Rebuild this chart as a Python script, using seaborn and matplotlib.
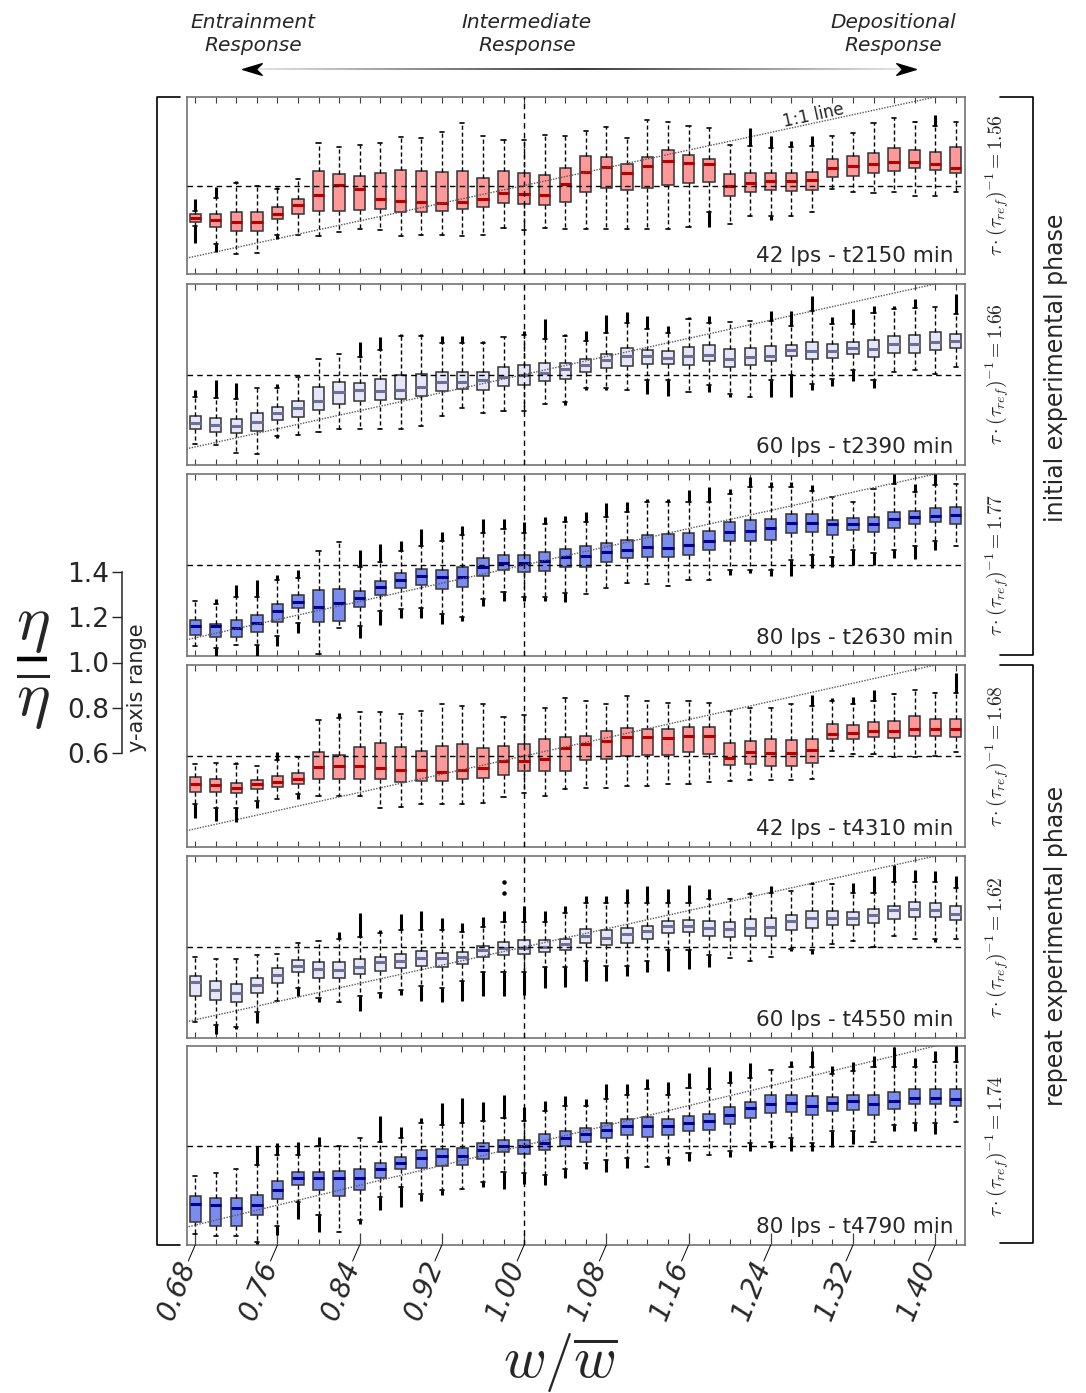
import numpy as np
import pandas as pd
import matplotlib
matplotlib.use("Agg")
import matplotlib.pyplot as plt
from matplotlib.lines import Line2D
from matplotlib.collections import LineCollection
from matplotlib.path import Path
import seaborn as sns

sns.set_style("white")
plt.rcParams["font.family"] = ["DejaVu Sans"]
plt.rcParams["mathtext.fontset"] = "cm"

N = np.nan

# channel width bins, w / mean(w)
width_ratio = [0.68, 0.70, 0.72, 0.74, 0.76, 0.78, 0.80, 0.82, 0.84, 0.86,
               0.88, 0.90, 0.92, 0.94, 0.96, 0.98, 1.00, 1.02, 1.04, 1.06,
               1.08, 1.10, 1.12, 1.14, 1.16, 1.18, 1.20, 1.22, 1.24, 1.26,
               1.28, 1.30, 1.32, 1.34, 1.36, 1.38, 1.40, 1.42]
major_ticks = [0.68, 0.76, 0.84, 0.92, 1.00, 1.08, 1.16, 1.24, 1.32, 1.40]

run_labels = ["42 lps - t2150 min", "60 lps - t2390 min", "80 lps - t2630 min",
              "42 lps - t4310 min", "60 lps - t4550 min", "80 lps - t4790 min"]
discharge = [42, 60, 80, 42, 60, 80]
tau_ratio = [1.56, 1.66, 1.77, 1.68, 1.62, 1.74]

# ---- 42 lps, t2150 ----
p1_whishi = [.887, .942, 1.013, .996, .984, 1.028, 1.193, 1.173, 1.185, 1.193,
             1.221, 1.216, 1.240, 1.284, 1.225, 1.207, 1.207, 1.230, 1.225, 1.245,
             1.264, 1.215, 1.297, 1.285, 1.270, 1.261, 1.182, 1.178, 1.170, 1.175,
             1.178, 1.225, 1.237, 1.282, 1.304, 1.285, 1.267, 1.287]
p1_q3 = [.869, .869, .879, .879, .904, .937, 1.064, 1.054, 1.042, 1.057,
         1.070, 1.067, 1.063, 1.064, 1.034, 1.064, 1.057, 1.048, 1.078, 1.133,
         1.131, 1.097, 1.127, 1.160, 1.140, 1.122, 1.052, 1.057, 1.058, 1.058,
         1.063, 1.119, 1.134, 1.148, 1.169, 1.160, 1.151, 1.176]
p1_med = [.852, .846, .837, .837, .873, .913, .957, 1.004, .984, .939,
          .928, .927, .922, .927, .939, .966, .961, .957, 1.009, 1.063,
          1.082, 1.057, 1.087, 1.112, 1.103, 1.097, 1.000, 1.013, 1.019, 1.021,
          1.025, 1.081, 1.088, 1.097, 1.107, 1.107, 1.099, 1.079]
p1_q1 = [.836, .812, .793, .793, .849, .869, .884, .887, .890, .894,
         .879, .879, .884, .894, .904, .922, .915, .912, .924, .972,
         .988, .978, .988, 1.004, 1.012, 1.016, .954, .972, .979, .975,
         .981, 1.040, 1.043, 1.057, 1.067, 1.078, 1.070, 1.058]
p1_whislo = [.819, .737, .690, .697, .775, .778, .772, .788, .804, .800,
             .772, .776, .776, .770, .775, .807, .800, .807, .804, .804,
             .804, .804, .804, .804, .812, .879, .827, .861, .864, .864,
             .882, .984, .972, .964, .969, .954, .954, .969]
p1_flier_hi = [.939, .991, 1.021, N, .994, N, N, N, N, N,
               N, N, N, N, N, N, N, N, N, N,
               N, N, N, N, N, N, N, 1.260, 1.222, 1.200,
               1.225, N, N, N, N, 1.290, 1.319, N]
p1_flier_lo = [.742, .700, N, N, .760, N, N, N, N, N,
               N, N, N, N, N, N, N, N, N, N,
               N, N, N, N, N, .812, N, N, .842, N,
               N, N, N, N, N, N, N, N]

# ---- 60 lps, t2390 ----
p2_whishi = [.900, .897, .893, .942, .942, .987, 1.070, 1.091, 1.079, 1.109,
             1.172, 1.172, 1.139, 1.139, 1.139, 1.166, 1.176, 1.157, 1.172, 1.146,
             1.184, 1.228, 1.199, 1.184, 1.246, 1.228, 1.233, 1.236, 1.236, 1.213,
             1.281, 1.221, 1.221, 1.273, 1.288, 1.296, 1.300, 1.266]
p2_q3 = [.815, .809, .804, .830, .858, .881, .943, .969, .963, .979,
         .997, 1.004, 1.009, 1.012, 1.012, 1.031, 1.040, 1.049, 1.052, 1.067,
         1.091, 1.116, 1.107, 1.103, 1.121, 1.130, 1.113, 1.115, 1.124, 1.131,
         1.143, 1.134, 1.142, 1.151, 1.169, 1.176, 1.188, 1.179]
p2_med = [.784, .778, .773, .790, .828, .854, .885, .921, .930, .927,
          .933, .945, .966, .969, .975, .990, .997, 1.007, 1.025, 1.040,
          1.064, 1.082, 1.082, 1.075, 1.082, 1.085, 1.069, 1.076, 1.081, 1.109,
          1.104, 1.104, 1.116, 1.113, 1.133, 1.133, 1.145, 1.149]
p2_q1 = [.757, .745, .740, .751, .801, .813, .843, .869, .881, .888,
         .890, .904, .925, .934, .933, .948, .952, .970, .981, 1.012,
         1.028, 1.039, 1.046, 1.046, 1.043, 1.058, 1.031, 1.042, 1.061, 1.081,
         1.067, 1.072, 1.090, 1.076, 1.094, 1.094, 1.109, 1.118]
p2_whislo = [.694, .687, .654, .649, .728, .733, .748, .761, .761, .758,
             .761, .773, .815, .851, .830, .840, .840, .870, .878, .942,
             .942, .933, .975, .975, .922, .952, .915, .900, .975, 1.000,
             .960, .982, 1.019, .975, 1.012, 1.019, 1.001, 1.031]
p2_flier_hi = [.930, .975, .964, N, .960, N, N, N, 1.142, 1.164,
               1.181, 1.181, 1.172, 1.172, 1.149, N, 1.191, 1.246, 1.181, 1.191,
               1.261, 1.276, 1.258, 1.216, 1.255, 1.258, N, N, 1.281, 1.281,
               1.348, 1.255, 1.288, 1.303, 1.303, 1.333, N, 1.355]
p2_flier_lo = [N, N, N, N, .718, N, N, N, N, N,
               N, N, N, N, N, N, N, N, .863, .930,
               .930, N, .915, .907, N, .922, .900, N, .900, .900,
               .930, .948, .970, .940, N, N, N, N]

# ---- 80 lps, t2630 ----
p3_whishi = [.840, .828, .858, .858, .933, .945, 1.060, 1.100, .993, 1.015,
             1.060, 1.082, 1.104, 1.134, 1.142, 1.157, 1.142, 1.179, 1.187, 1.187,
             1.209, 1.231, 1.276, 1.276, 1.276, 1.276, 1.313, 1.343, 1.343, 1.343,
             1.324, 1.299, 1.276, 1.336, 1.358, 1.321, 1.351, 1.358]
p3_q3 = [.757, .742, .757, .781, .828, .869, .888, .896, .885, .931,
         .966, .984, .978, .993, 1.030, 1.043, 1.043, 1.058, 1.070, 1.082,
         1.097, 1.112, 1.133, 1.137, 1.142, 1.149, 1.187, 1.199, 1.204, 1.224,
         1.224, 1.199, 1.207, 1.209, 1.231, 1.239, 1.249, 1.257]
p3_med = [.730, .730, .724, .746, .796, .839, .816, .831, .855, .903,
          .933, .951, .948, .948, .990, 1.007, 1.010, 1.019, 1.033, 1.040,
          1.055, 1.067, 1.078, 1.073, 1.090, 1.104, 1.145, 1.149, 1.161, 1.184,
          1.184, 1.179, 1.179, 1.179, 1.201, 1.212, 1.216, 1.221]
p3_q1 = [.691, .684, .684, .706, .751, .810, .751, .754, .816, .870,
         .900, .910, .896, .903, .951, .978, .970, .975, .993, .993,
         1.012, 1.030, 1.037, 1.034, 1.042, 1.064, 1.104, 1.107, 1.112, 1.142,
         1.146, 1.134, 1.152, 1.146, 1.161, 1.182, 1.191, 1.182]
p3_whislo = [.642, .634, .649, .649, .687, .746, .607, .724, .731, .799,
             .806, .813, .784, .772, .851, .881, .858, .861, .876, .873,
             .900, .921, .918, .906, .936, .936, .978, .978, .978, 1.022,
             1.045, 1.034, 1.067, 1.052, 1.067, 1.082, 1.104, 1.085]
p3_flier_hi = [N, .851, .910, .933, .955, .978, N, N, 1.067, 1.094,
               1.107, 1.157, 1.145, 1.172, 1.204, 1.204, 1.190, 1.209, 1.216, 1.231,
               1.273, 1.276, 1.288, 1.291, 1.328, 1.343, 1.336, 1.388, 1.366, 1.366,
               1.351, N, N, N, 1.400, 1.358, 1.400, N]
p3_flier_lo = [N, .601, N, .601, .642, .701, N, N, .679, .736,
               .769, .769, .739, .754, .821, .843, .840, .843, .836, N,
               N, N, N, N, N, N, .955, .963, .951, .951,
               .985, .993, 1.000, 1.000, 1.030, 1.025, 1.067, N]

# ---- 42 lps, t4310 ----
p4_whishi = [.963, .970, .966, .958, .981, .996, 1.157, 1.167, 1.194, 1.194,
             1.185, 1.200, 1.227, 1.219, 1.227, 1.172, 1.182, 1.209, 1.257, 1.242,
             1.227, 1.264, 1.242, 1.234, 1.242, 1.234, 1.197, 1.212, 1.212, 1.227,
             1.219, 1.242, 1.227, 1.242, 1.272, 1.291, 1.279, 1.279]
p4_q3 = [.906, .899, .881, .896, .912, .925, 1.016, 1.006, 1.040, 1.058,
         1.040, 1.022, 1.046, 1.051, 1.033, 1.042, 1.051, 1.073, 1.084, 1.088,
         1.109, 1.121, 1.119, 1.119, 1.127, 1.127, 1.058, 1.067, 1.073, 1.070,
         1.073, 1.142, 1.137, 1.149, 1.155, 1.178, 1.164, 1.163]
p4_med = [.875, .873, .861, .876, .887, .899, .951, .954, .954, .948,
          .939, .940, .931, .940, .948, .978, .978, .988, 1.034, 1.052,
          1.064, 1.082, 1.085, 1.081, 1.090, 1.090, .993, 1.018, 1.013, 1.013,
          1.028, 1.097, 1.103, 1.112, 1.112, 1.119, 1.119, 1.118]
p4_q1 = [.842, .842, .836, .854, .864, .879, .897, .899, .901, .897,
         .887, .891, .891, .899, .903, .918, .934, .936, .936, .981,
         .987, .999, 1.003, 1.003, 1.018, 1.007, .961, .966, .954, .957,
         .969, 1.073, 1.075, 1.085, 1.081, 1.088, 1.088, 1.082]
p4_whislo = [.787, .772, .772, .801, .812, .831, .824, .824, .824, .772,
             .776, .787, .787, .787, .794, .819, .839, .824, .854, .861,
             .861, .869, .869, .876, .876, .887, .888, .894, .894, .894,
             .899, 1.022, 1.010, 1.010, .996, .996, 1.000, 1.018]
p4_flier_hi = [N, N, .973, N, 1.018, N, N, 1.190, N, N,
               N, N, N, N, N, N, N, N, N, N,
               N, N, N, N, N, N, N, N, N, N,
               1.267, 1.257, 1.261, 1.291, 1.279, N, 1.282, 1.366]
p4_flier_lo = [.727, .715, .709, .772, N, .809, N, N, N, N,
               N, N, N, N, N, N, N, N, N, N,
               N, N, N, N, N, N, N, N, N, N,
               N, N, N, N, N, N, N, N]

# ---- 60 lps, t4550 ----
p5_whishi = [.958, .948, .948, .963, .970, 1.018, 1.027, 1.037, 1.045, 1.060,
             1.075, 1.075, 1.075, 1.067, 1.090, 1.112, 1.112, 1.112, 1.149, 1.194,
             1.194, 1.194, 1.194, 1.194, 1.194, 1.209, 1.209, 1.231, 1.239, 1.246,
             1.276, 1.276, 1.239, 1.239, 1.284, 1.284, 1.284, 1.261]
p5_q3 = [.873, .851, .836, .864, .906, .943, .933, .933, .948, .958,
         .970, .982, .975, .978, 1.004, 1.024, 1.030, 1.030, 1.037, 1.078,
         1.075, 1.082, 1.094, 1.115, 1.119, 1.116, 1.112, 1.122, 1.127, 1.140,
         1.157, 1.160, 1.152, 1.167, 1.179, 1.197, 1.194, 1.182]
p5_med = [.846, .809, .799, .831, .878, .915, .903, .900, .913, .933,
          .940, .951, .951, .955, .988, .997, .997, 1.000, 1.015, 1.048,
          1.040, 1.055, 1.070, 1.093, 1.093, 1.082, 1.078, 1.082, 1.090, 1.116,
          1.127, 1.127, 1.127, 1.142, 1.164, 1.167, 1.164, 1.145]
p5_q1 = [.784, .767, .757, .796, .840, .888, .863, .863, .881, .893,
         .906, .915, .910, .925, .955, .967, .970, .978, .988, 1.019,
         1.010, 1.018, 1.037, 1.060, 1.064, 1.049, 1.045, 1.048, 1.048, 1.075,
         1.082, 1.096, 1.097, 1.104, 1.122, 1.134, 1.130, 1.119]
p5_whislo = [.672, .657, .649, .716, .761, .821, .776, .758, .784, .799,
             .813, .828, .821, .851, .888, .888, .888, .910, .910, .940,
             .918, .918, .940, .985, .985, .963, .952, .940, .955, .993,
             .985, 1.012, 1.027, 1.000, 1.048, 1.037, 1.037, 1.037]
p5_flier_hi = [N, N, N, N, N, N, N, 1.067, 1.149, 1.075,
               1.145, 1.157, 1.127, 1.107, 1.134, 1.157, 1.179, 1.157, 1.182, 1.224,
               1.224, 1.257, 1.269, 1.254, 1.272, 1.254, 1.216, 1.242, 1.269, N,
               1.287, 1.281, 1.281, 1.313, 1.361, 1.340, 1.336, 1.310]
p5_flier_lo = [N, .619, .639, .664, N, .784, .758, N, .719, .776,
               .791, .761, .758, .761, .784, .784, .791, .821, .824, .851,
               .851, .873, .888, .893, .903, .910, N, N, N, .982,
               .970, N, N, N, N, N, 1.022, N]
p5_outlier_x = [0.98, 0.98]
p5_outlier_y = [1.239, 1.284]

# ---- 80 lps, t4790 ----
p6_whishi = [.878, .891, .905, .922, .962, .962, .996, .996, 1.030, 1.016,
             1.030, 1.091, 1.084, 1.091, 1.097, 1.111, 1.097, 1.138, 1.158, 1.158,
             1.185, 1.205, 1.226, 1.205, 1.232, 1.226, 1.253, 1.273, 1.303, 1.314,
             1.314, 1.286, 1.300, 1.314, 1.314, 1.314, 1.334, 1.334]
p6_q3 = [.796, .789, .789, .803, .857, .892, .892, .897, .905, .928,
         .955, .982, .986, .989, 1.009, 1.023, 1.022, 1.046, 1.059, 1.070,
         1.091, 1.107, 1.114, 1.108, 1.118, 1.127, 1.154, 1.174, 1.205, 1.205,
         1.199, 1.196, 1.205, 1.205, 1.215, 1.228, 1.228, 1.228]
p6_med = [.766, .762, .750, .762, .823, .870, .868, .868, .868, .904,
          .931, .949, .958, .958, .982, .996, .996, 1.012, 1.030, 1.046,
          1.064, 1.080, 1.080, 1.080, 1.091, 1.100, 1.122, 1.149, 1.168, 1.169,
          1.158, 1.172, 1.178, 1.168, 1.178, 1.192, 1.192, 1.188]
p6_q1 = [.692, .678, .678, .722, .784, .841, .820, .797, .820, .870,
         .904, .911, .918, .922, .946, .972, .966, .980, .996, 1.014,
         1.030, 1.043, 1.035, 1.043, 1.059, 1.062, 1.086, 1.111, 1.131, 1.134,
         1.122, 1.138, 1.141, 1.124, 1.145, 1.165, 1.165, 1.158]
p6_whislo = [.645, .638, .638, .611, .678, .773, .719, .654, .699, .793,
             .834, .807, .820, .827, .854, .895, .888, .881, .905, .928,
             .942, .949, .915, .949, .969, .962, .976, 1.009, 1.016, 1.030,
             1.009, 1.059, 1.059, 1.014, 1.084, 1.091, 1.091, 1.093]
p6_flier_hi = [N, N, N, .996, 1.009, 1.016, 1.036, N, N, 1.118,
               1.073, 1.111, 1.172, 1.189, 1.174, 1.205, 1.154, 1.178, 1.199, 1.185,
               1.249, 1.246, 1.269, 1.257, 1.293, 1.316, 1.300, 1.330, N, 1.341,
               1.381, 1.320, 1.334, 1.361, 1.395, 1.351, 1.381, 1.400]
p6_flier_lo = [N, N, N, .604, .641, .705, .654, N, .685, .739,
               .753, .776, .800, N, .834, .827, .847, .843, .868, .904,
               .895, .911, N, .922, .938, N, .955, .978, .989, .978,
               .978, .992, 1.005, N, 1.057, 1.057, 1.046, N]

box_colors = {42: ("#ff9999", "#b30000"),
              60: ("#e6e6fa", "#6e6e96"),
              80: ("#7b8cf0", "#000090")}

panels = [
    (p1_whislo, p1_q1, p1_med, p1_q3, p1_whishi, p1_flier_hi, p1_flier_lo),
    (p2_whislo, p2_q1, p2_med, p2_q3, p2_whishi, p2_flier_hi, p2_flier_lo),
    (p3_whislo, p3_q1, p3_med, p3_q3, p3_whishi, p3_flier_hi, p3_flier_lo),
    (p4_whislo, p4_q1, p4_med, p4_q3, p4_whishi, p4_flier_hi, p4_flier_lo),
    (p5_whislo, p5_q1, p5_med, p5_q3, p5_whishi, p5_flier_hi, p5_flier_lo),
    (p6_whislo, p6_q1, p6_med, p6_q3, p6_whishi, p6_flier_hi, p6_flier_lo),
]

W, H = 1086, 1393
fig = plt.figure(figsize=(W / 100, H / 100), dpi=100)

# panel frames in pixels (top, bottom)
panel_tops = [97, 284, 474, 665, 856, 1046]
panel_bottoms = [274, 465, 656, 847, 1038, 1245]
ax_left, ax_right = 187, 965


def fx(px):
    return px / W


def fy(py):
    return 1 - py / H


x_arr = np.array(width_ratio)
axes = []
for k, (lo, q1, med, q3, hi, fhi, flo) in enumerate(panels):
    t, b = panel_tops[k], panel_bottoms[k]
    ax = fig.add_axes([fx(ax_left), fy(b), (ax_right - ax_left) / W, (b - t) / H])
    axes.append(ax)
    face, med_color = box_colors[discharge[k]]

    # five summary values per bin -> quartiles and whisker ends
    rx, ry = [], []
    for i, x in enumerate(width_ratio):
        for v in (lo[i], q1[i], med[i], q3[i], hi[i]):
            rx.append(x)
            ry.append(v)
    df = pd.DataFrame({"ratio": rx, "eta": ry})

    sns.boxplot(data=df, x="ratio", y="eta", native_scale=True, ax=ax,
                color=face, saturation=1, width=0.55, whis=(0, 100),
                showfliers=False, linecolor="#333333", linewidth=1.1,
                capwidths=0.004,
                medianprops=dict(color=med_color, linewidth=2.2),
                whiskerprops=dict(color="k", linestyle=(0, (3, 2)), linewidth=1.0),
                capprops=dict(color="k", linewidth=1.2))

    # outlier ranges beyond the whiskers
    fhi_a, flo_a = np.array(fhi), np.array(flo)
    hi_a, lo_a = np.array(hi), np.array(lo)
    m = ~np.isnan(fhi_a)
    ax.vlines(x_arr[m], hi_a[m], fhi_a[m], color="k", lw=2.2, zorder=4)
    m = ~np.isnan(flo_a)
    ax.vlines(x_arr[m], flo_a[m], lo_a[m], color="k", lw=2.2, zorder=4)
    if k == 4:
        ax.scatter(p5_outlier_x, p5_outlier_y, s=5, color="k", zorder=4)

    # reference lines
    ax.axhline(1.0, color="k", lw=1.0, ls=(0, (4, 3)), zorder=3)
    ax.axvline(1.0, color="k", lw=1.0, ls=(0, (4, 3)), zorder=3)
    ax.plot([0.6, 1.5], [0.6, 1.5], color="0.35", lw=1.0, ls=(0, (1, 1)), zorder=3)
    if k == 0:
        ax.text(1.281, 1.318, "1:1 line", rotation=12.2, ha="center", va="center",
                fontsize=12, rotation_mode="anchor")

    ax.set_xlim(0.672, 1.429)
    ax.set_ylim(0.6, 1.4)
    ax.set_xlabel("")
    ax.set_ylabel("")
    ax.set_yticks([])
    ax.set_xticks(width_ratio, minor=True)
    ax.set_xticks(major_ticks if k == 5 else [])
    ax.tick_params(axis="x", which="minor", direction="in", length=4, width=0.8,
                   top=True, bottom=True, labelbottom=False, color="0.25")
    ax.tick_params(axis="x", which="major", direction="in", length=9, width=0.9,
                   top=False, bottom=True, labelbottom=False, color="0.25")
    for sp in ax.spines.values():
        sp.set_color("0.45")
        sp.set_linewidth(1.2)

    ax.annotate(run_labels[k], xy=(1, 0), xycoords="axes fraction",
                xytext=(-8.5, 8.5), textcoords="offset points",
                ha="right", va="baseline", fontsize=15.5)

    fig.text(fx(997), fy((t + b) / 2),
             r"$\tau\cdot(\tau_{ref})^{-1} = %.2f$" % tau_ratio[k],
             rotation=90, ha="center", va="center", fontsize=14)

# slanted tick labels on the bottom panel
ax6 = axes[-1]
xtf = ax6.get_xaxis_transform()
for tck in major_ticks:
    ax6.annotate("", xy=(tck, 0), xycoords=xtf, xytext=(-5, -11.5),
                 textcoords="offset points", annotation_clip=False,
                 arrowprops=dict(arrowstyle="-", lw=0.7, color="k",
                                 shrinkA=0, shrinkB=0))
    ax6.annotate(f"{tck:.2f}", xy=(tck, 0), xycoords=xtf, xytext=(-5, -12),
                 textcoords="offset points", rotation=68, rotation_mode="anchor",
                 ha="right", va="center", fontsize=20, style="italic",
                 annotation_clip=False)

fig.text(fx(560), fy(1362), r"$w/\overline{w}$", fontsize=42,
         ha="center", va="center")

# response arrow across the top
x0, x1, yy = 252, 906, 69
xs = np.linspace(fx(x0), fx(x1), 241)
segs = [[(xs[i], fy(yy)), (xs[i + 1], fy(yy))] for i in range(len(xs) - 1)]
mids = (xs[:-1] + xs[1:]) / 2
centre = (fx(x0) + fx(x1)) / 2
half = (fx(x1) - fx(x0)) / 2
shade = 0.15 + 0.75 * np.abs(mids - centre) / half
fig.add_artist(LineCollection(segs, colors=[(g, g, g) for g in shade],
                              linewidths=1.3, transform=fig.transFigure))
head = Path([(1, 0), (-1, 0.6), (-0.4, 0), (-1, -0.6), (1, 0)],
            [Path.MOVETO, Path.LINETO, Path.LINETO, Path.LINETO, Path.CLOSEPOLY])
head_l = Path([(-1, 0), (1, 0.6), (0.4, 0), (1, -0.6), (-1, 0)],
              [Path.MOVETO, Path.LINETO, Path.LINETO, Path.LINETO, Path.CLOSEPOLY])
fig.add_artist(Line2D([fx(252)], [fy(yy)], marker=head_l, markersize=14,
                      color="k", transform=fig.transFigure))
fig.add_artist(Line2D([fx(906)], [fy(yy)], marker=head, markersize=14,
                      color="k", transform=fig.transFigure))

for xc, txt in [(253, "Entrainment\nResponse"), (527, "Intermediate\nResponse"),
                (893, "Depositional\nResponse")]:
    fig.text(fx(xc), fy(34), txt, ha="center", va="center", style="italic",
             fontsize=14.5, linespacing=1.25)

# left bracket spanning all panels
fig.add_artist(Line2D([fx(180), fx(157), fx(157), fx(180)],
                      [fy(97), fy(97), fy(1245), fy(1245)],
                      color="k", lw=1.2, transform=fig.transFigure))

# phase brackets on the right
for top, bot, label in [(97, 655, "initial experimental phase"),
                        (665, 1243, "repeat experimental phase")]:
    fig.add_artist(Line2D([fx(1000), fx(1033), fx(1033), fx(1000)],
                          [fy(top), fy(top), fy(bot), fy(bot)],
                          color="k", lw=1.2, transform=fig.transFigure))
    fig.text(fx(1056), fy((top + bot) / 2 - 8), label, rotation=90,
             ha="center", va="center", fontsize=17)

# y-axis key
iax = fig.add_axes([fx(122), fy(753), 0.0005, 181 / H])
iax.set_ylim(0.6, 1.4)
iax.set_xticks([])
iax.set_yticks([0.6, 0.8, 1.0, 1.2, 1.4])
iax.set_yticklabels(["0.6", "0.8", "1.0", "1.2", "1.4"], fontsize=19)
iax.tick_params(axis="y", direction="out", length=7, width=1, left=True, pad=2)
for name, sp in iax.spines.items():
    sp.set_visible(name == "left")
iax.spines["left"].set_linewidth(1.1)
iax.patch.set_alpha(0)
fig.text(fx(137), fy(688), "y-axis range", rotation=90, ha="center",
         va="center", fontsize=15)

# eta over mean eta, stacked as a fraction
fig.text(fx(33), fy(624), r"$\eta$", fontsize=46, ha="center", va="center")
fig.add_artist(Line2D([fx(17), fx(47)], [fy(659), fy(659)], color="k",
                      lw=3.2, solid_capstyle="butt", transform=fig.transFigure))
fig.text(fx(33), fy(702), r"$\overline{\eta}$", fontsize=46, ha="center",
         va="center")

fig.savefig("out.png", dpi=100)
